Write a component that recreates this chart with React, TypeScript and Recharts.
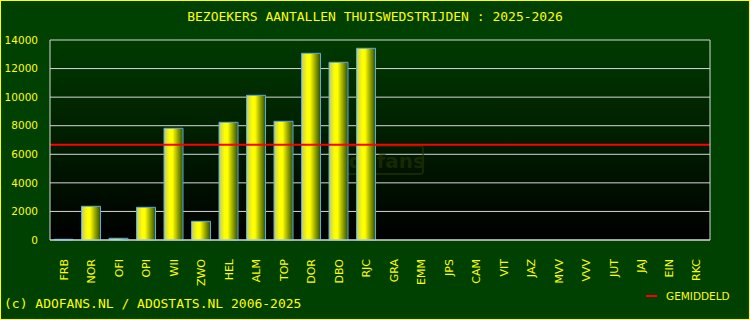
import { BarChart, Bar, XAxis, YAxis, CartesianGrid, ReferenceLine, Customized } from 'recharts';

const clubs = ['FRB', 'NOR', 'OFI', 'OPI', 'WII', 'ZWO', 'HEL', 'ALM', 'TOP', 'DOR', 'DBO', 'RJC',
  'GRA', 'EMM', 'JPS', 'CAM', 'VIT', 'JAZ', 'MVV', 'VVV', 'JUT', 'JAJ', 'EIN', 'RKC'];

const bezoekers: (number | null)[] = [50, 2360, 120, 2290, 7820, 1310, 8240, 10130, 8310, 13070, 12440, 13420,
  null, null, null, null, null, null, null, null, null, null, null, null];

const gemiddeld = 6670;

const yTicks = [0, 2000, 4000, 6000, 8000, 10000, 12000, 14000];

const data = clubs.map((club, i) => ({ club, bezoekers: bezoekers[i] }));

const YELLOW = '#ffff00';
const SANS = '"DejaVu Sans", sans-serif';
const MONO = '"DejaVu Sans Mono", monospace';

const ClubTick = (props: any) => {
  const { x, y, payload } = props;
  return (
    <text
      transform={`translate(${x},${y + 11}) rotate(-90)`}
      textAnchor="end"
      dy="0.36em"
      fill={YELLOW}
      fontSize={11}
      fontFamily={SANS}
    >
      {payload.value}
    </text>
  );
};

const Watermark = () => (
  <g opacity={0.55}>
    <rect x={337} y={146} width={86} height={28} rx={3} fill="none" stroke="#2c3a00" strokeWidth={2} />
    <text x={380} y={168} textAnchor="middle" fill="#2c3a00" fontSize={20} fontWeight="bold" fontFamily={SANS}>
      adofans
    </text>
  </g>
);

export default function App() {
  return (
    <div style={{ position: 'absolute', left: 0, top: 0, width: 750, height: 320, background: '#004000', overflow: 'hidden' }}>
      <div
        style={{
          position: 'absolute', left: 0, top: 8, width: 750, textAlign: 'center',
          color: YELLOW, fontFamily: MONO, fontSize: 13, lineHeight: '18px',
        }}
      >
        BEZOEKERS AANTALLEN THUISWEDSTRIJDEN : 2025-2026
      </div>
      <div style={{ position: 'absolute', left: 0, top: 0 }}>
        <BarChart width={750} height={320} data={data} margin={{ top: 40, right: 0, bottom: 0, left: 0 }} barSize={19}>
          <defs>
            <linearGradient id="plotBg" x1="0" y1="0" x2="0" y2="1">
              <stop offset="0%" stopColor="#003a00" />
              <stop offset="100%" stopColor="#000000" />
            </linearGradient>
            <linearGradient id="barFill" x1="0" y1="0" x2="1" y2="0">
              <stop offset="0%" stopColor="#bccb6a" />
              <stop offset="30%" stopColor="#ffff00" />
              <stop offset="45%" stopColor="#ffff00" />
              <stop offset="75%" stopColor="#8c9c00" />
              <stop offset="100%" stopColor="#2a5200" />
            </linearGradient>
          </defs>
          <CartesianGrid vertical={false} stroke="#d8d8d8" fill="url(#plotBg)" fillOpacity={1} />
          <Customized component={Watermark} />
          <XAxis
            dataKey="club"
            interval={0}
            height={80}
            tickLine={false}
            axisLine={{ stroke: '#d8d8d8' }}
            tick={<ClubTick />}
          />
          <YAxis
            domain={[0, 14000]}
            ticks={yTicks}
            width={50}
            tickLine={false}
            tickMargin={6}
            axisLine={{ stroke: '#d8d8d8' }}
            tick={{ fill: YELLOW, fontSize: 10.5, fontFamily: SANS }}
          />
          <YAxis
            yAxisId="rand"
            orientation="right"
            domain={[0, 14000]}
            width={40}
            tick={false}
            tickLine={false}
            axisLine={{ stroke: '#d8d8d8' }}
          />
          <Bar dataKey="bezoekers" fill="url(#barFill)" stroke="#5aa8e8" strokeWidth={1} isAnimationActive={false} />
          <ReferenceLine y={gemiddeld} stroke="#ff0000" strokeWidth={2} />
        </BarChart>
      </div>
      <div
        style={{
          position: 'absolute', left: 4, top: 296, color: YELLOW,
          fontFamily: MONO, fontSize: 13, lineHeight: '16px', whiteSpace: 'pre',
        }}
      >
        (c) ADOFANS.NL / ADOSTATS.NL 2006-2025
      </div>
      <div style={{ position: 'absolute', left: 646, top: 288, display: 'flex', alignItems: 'center' }}>
        <div style={{ width: 11, height: 2, background: '#ff0000', marginRight: 9 }} />
        <span style={{ color: YELLOW, fontFamily: SANS, fontSize: 10.5, lineHeight: '16px' }}>GEMIDDELD</span>
      </div>
      <div
        style={{
          position: 'absolute', left: 0, top: 0, width: 750, height: 320,
          boxSizing: 'border-box', border: '1px solid #ffff00', pointerEvents: 'none',
        }}
      />
    </div>
  );
}
